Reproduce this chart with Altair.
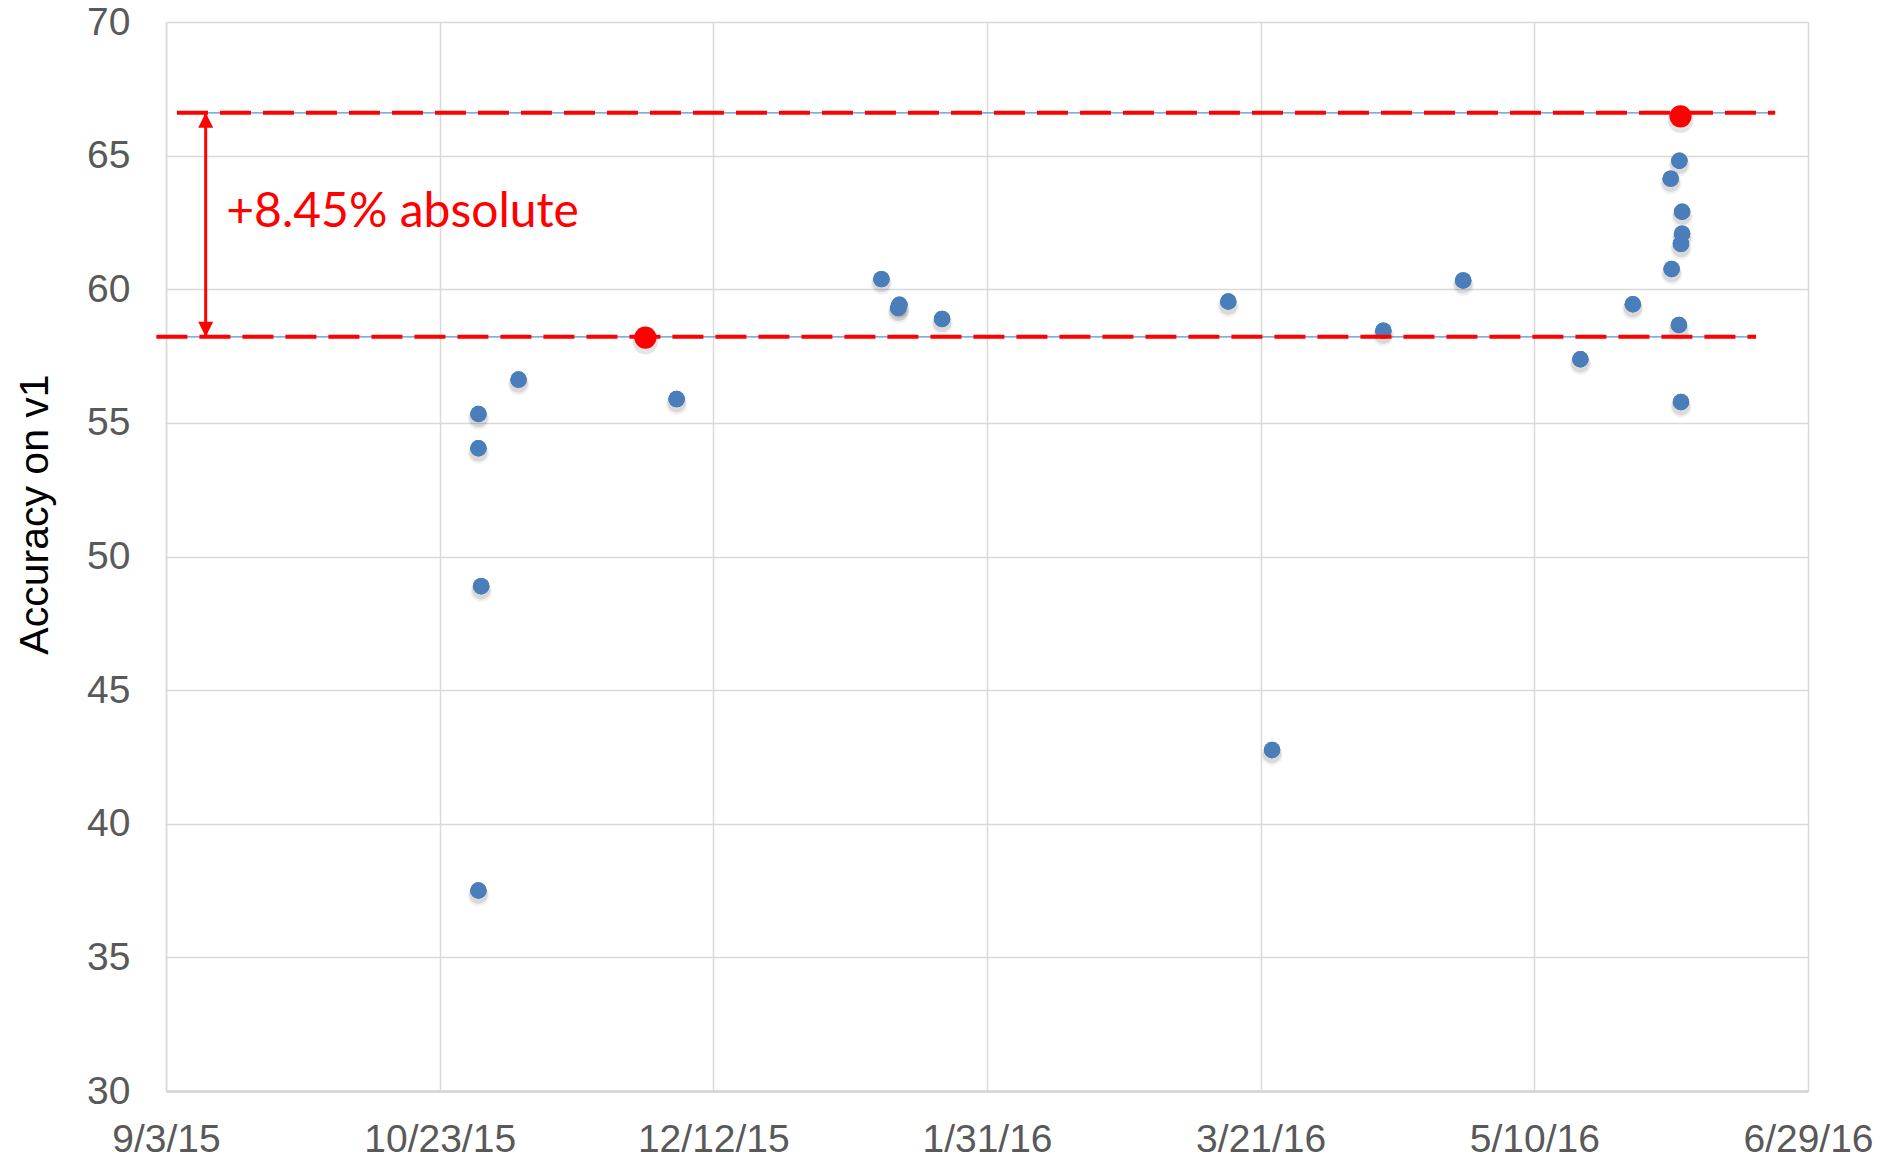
import altair as alt
import pandas as pd

# ---- data ----
blue_dates = [
    "2015-10-30T02:00", "2015-10-30T02:00", "2015-10-30T02:00", "2015-10-30T14:00",
    "2015-11-06T10:00", "2015-12-05T07:00", "2016-01-11T17:00", "2016-01-15T00:00",
    "2016-01-14T19:00", "2016-01-22T19:00", "2016-03-15T02:00", "2016-03-23T02:00",
    "2016-04-12T10:00", "2016-04-27T00:00", "2016-05-18T10:00", "2016-05-28T00:00",
    "2016-06-03T22:00", "2016-06-04T02:00", "2016-06-05T12:00", "2016-06-06T00:00",
    "2016-06-06T00:00", "2016-06-05T19:00", "2016-06-05T10:00", "2016-06-05T19:00",
]
blue_values = [
    37.5, 54.05, 55.33, 48.89,
    56.62, 55.89, 60.38, 59.42,
    59.3, 58.89, 59.54, 42.76,
    58.45, 60.33, 57.38, 59.44,
    64.14, 60.76, 64.81, 62.9,
    62.08, 61.7, 58.66, 55.78,
]
red_dates = ["2015-11-29T14:00", "2016-06-05T17:00"]
red_values = [58.19, 66.47]

# reference lines (baseline and best)
line_start = ["2015-09-01T06:00", "2015-09-05T00:00"]
line_end = ["2016-06-19T12:00", "2016-06-23T00:00"]
line_values = [58.22, 66.6]

arrow_date = ["2015-09-10T06:00"]
label_date = ["2015-09-14T00:00"]
label_value = [62.85]
label_text = ["+8.45% absolute"]

x_ticks = [(2015, 9, 3), (2015, 10, 23), (2015, 12, 12), (2016, 1, 31),
           (2016, 3, 21), (2016, 5, 10), (2016, 6, 29)]
y_ticks = [30, 35, 40, 45, 50, 55, 60, 65, 70]

# ---- tables ----
blue = pd.DataFrame({"date": blue_dates, "acc": blue_values})
red = pd.DataFrame({"date": red_dates, "acc": red_values})
lines = pd.DataFrame({"start": line_start, "end": line_end, "acc": line_values})
arrow = pd.DataFrame({"date": arrow_date, "lo": [line_values[0]], "hi": [line_values[1]]})
arrow_tips = pd.DataFrame({"date": arrow_date * 2, "acc": line_values,
                           "shape": ["M0,0L-0.5,-1L0.5,-1Z", "M0,0L-0.5,1L0.5,1Z"]})
label = pd.DataFrame({"date": label_date, "acc": label_value, "text": label_text})

GRID = "#d9d9d9"
LABEL = "#595959"

x_scale = alt.Scale(domain=[alt.DateTime(year=2015, month=9, date=3),
                            alt.DateTime(year=2016, month=6, date=29)])
y_scale = alt.Scale(domain=[30, 70], nice=False, zero=False)

x_axis = alt.Axis(
    values=[alt.DateTime(year=y, month=m, date=d) for (y, m, d) in x_ticks],
    format="%-m/%-d/%y", title=None, grid=True, gridColor=GRID, gridWidth=1.5,
    domainColor=GRID, domainWidth=3, ticks=False, labelFontSize=39,
    labelColor=LABEL, labelFont="Liberation Sans", labelPadding=29,
    labelFlush=False, labelOverlap=False,
)
y_axis = alt.Axis(
    values=y_ticks, title="Accuracy on v1", grid=True, gridColor=GRID, gridWidth=1.5,
    domainColor=GRID, domainWidth=1.5, ticks=False, labelFontSize=39,
    labelColor=LABEL, labelFont="Liberation Sans", labelPadding=36,
    titleFont="Liberation Sans", titleFontSize=41, titleFontWeight="normal",
    titleColor="black", titleAngle=270, titleAlign="center",
    titleBaseline="alphabetic", titleX=-119, titleY=492,
)

X = alt.X("date:T", scale=x_scale, axis=x_axis)
Y = alt.Y("acc:Q", scale=y_scale, axis=y_axis)
Xs = alt.X("date:T", scale=x_scale)
Ys = alt.Y("acc:Q", scale=y_scale)

# shadow approximations
shadow_b2 = alt.Chart(blue).mark_circle(size=460, color="#000000", opacity=0.05, yOffset=5).encode(x=Xs, y=Ys)
shadow_b = alt.Chart(blue).mark_circle(size=350, color="#000000", opacity=0.10, yOffset=4).encode(x=Xs, y=Ys)
shadow_r = alt.Chart(red).mark_circle(size=650, color="#000000", opacity=0.10, yOffset=4).encode(x=Xs, y=Ys)

blue_pts = alt.Chart(blue).mark_circle(size=270, color="#4a7ebb", opacity=1).encode(x=X, y=Y)
red_pts = alt.Chart(red).mark_circle(size=490, color="#ff0000", opacity=1).encode(x=Xs, y=Ys)

thin_lines = alt.Chart(lines).mark_rule(color="#5b8fd0", strokeWidth=1.2).encode(
    x=alt.X("start:T", scale=x_scale), x2="end:T", y=Ys)
dash_lines = alt.Chart(lines).mark_rule(color="#ff0000", strokeWidth=4,
                                        strokeDash=[31, 12]).encode(
    x=alt.X("start:T", scale=x_scale), x2="end:T", y=Ys)

arrow_line = alt.Chart(arrow).mark_rule(color="#ff0000", strokeWidth=3).encode(
    x=Xs, y=alt.Y("lo:Q", scale=y_scale), y2="hi:Q")
tips = alt.Chart(arrow_tips).mark_point(size=900, filled=True, color="#ff0000",
                                        opacity=1, strokeWidth=0).encode(
    x=Xs, y=Ys, shape=alt.Shape("shape:N", scale=None, legend=None))

text = alt.Chart(label).mark_text(align="left", baseline="middle", color="#ff0000",
                                  font="Lato", fontSize=48).encode(
    x=Xs, y=Ys, text="text:N")

chart = alt.layer(
    blue_pts, thin_lines, shadow_b2, shadow_b, shadow_r, blue_pts,
    dash_lines, red_pts, arrow_line, tips, text,
).properties(
    width=1642, height=1069,
    autosize=alt.AutoSizeParams(type="none"),
    padding={"left": 158, "top": 14, "right": 67, "bottom": 70},
).configure_view(stroke=None).configure(background="white")

chart.save("out.html", embed_options={"renderer": "svg", "actions": False})
